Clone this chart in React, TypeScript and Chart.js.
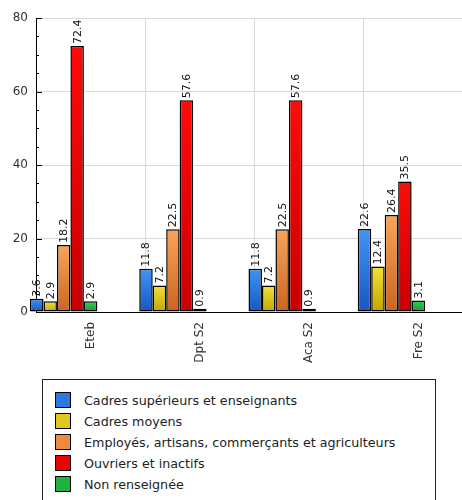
import React, { useEffect, useRef } from 'react';
import { Chart, registerables } from 'chart.js';

Chart.register(...registerables);

const categories = ['Eteb', 'Dpt S2', 'Aca S2', 'Fre S2'];
const seriesNames = [
  'Cadres supérieurs et enseignants',
  'Cadres moyens',
  'Employés, artisans, commerçants et agriculteurs',
  'Ouvriers et inactifs',
  'Non renseignée',
];
const cadresSuperieurs = [3.6, 11.8, 11.8, 22.6];
const cadresMoyens = [2.9, 7.2, 7.2, 12.4];
const employes = [18.2, 22.5, 22.5, 26.4];
const ouvriers = [72.4, 57.6, 57.6, 35.5];
const nonRenseignee = [2.9, 0.9, 0.9, 3.1];
const yMax = 80;
const yMajorStep = 20;
const yMinorStep = 5;

const seriesValues = [cadresSuperieurs, cadresMoyens, employes, ouvriers, nonRenseignee];
const gradients: [string, string][] = [
  ['#3f95f5', '#1558c0'],
  ['#f2e23a', '#c2a400'],
  ['#f8a458', '#cc6420'],
  ['#ff0a0a', '#c80000'],
  ['#3ccc4c', '#159a35'],
];
const legendColors = ['#2a78e0', '#e0c820', '#ee8a40', '#ee0000', '#22b040'];

const valueLabels = {
  id: 'valueLabels',
  afterDatasetsDraw(chart: any) {
    const ctx = chart.ctx;
    ctx.save();
    ctx.font = '11px "DejaVu Sans"';
    ctx.fillStyle = '#111';
    ctx.textAlign = 'left';
    ctx.textBaseline = 'middle';
    seriesValues.forEach((vals, i) => {
      const meta = chart.getDatasetMeta(i);
      meta.data.forEach((bar: any, j: number) => {
        ctx.save();
        ctx.translate(bar.x + 0.5, bar.y - 2);
        ctx.rotate(-Math.PI / 2);
        ctx.fillText(vals[j].toFixed(1), 0, 0);
        ctx.restore();
      });
    });
    ctx.restore();
  },
};

const yMinorTicks = {
  id: 'yMinorTicks',
  afterDraw(chart: any) {
    const ctx = chart.ctx;
    const y = chart.scales.y;
    ctx.save();
    ctx.strokeStyle = '#000';
    ctx.lineWidth = 1;
    y.ticks.forEach((t: any) => {
      const py = Math.round(y.getPixelForValue(t.value)) + 0.5;
      const len = t.value % yMajorStep === 0 ? 6 : 3;
      ctx.beginPath();
      ctx.moveTo(y.right, py);
      ctx.lineTo(y.right + len, py);
      ctx.stroke();
    });
    ctx.restore();
  },
};

export default function App() {
  const ref = useRef<HTMLCanvasElement>(null);
  useEffect(() => {
    if (!ref.current) return;
    const mkBg = (i: number) => (c: any) => {
      const chart = c.chart;
      const area = chart.chartArea;
      if (!area || c.type !== 'data') return gradients[i][0];
      const ys = chart.scales.y;
      const v = c.raw ?? 0;
      const top = ys.getPixelForValue(v);
      const base = ys.getPixelForValue(0);
      if (!(base - top > 0.5)) return gradients[i][1];
      const g = chart.ctx.createLinearGradient(0, top, 0, base);
      g.addColorStop(0, gradients[i][0]);
      g.addColorStop(1, gradients[i][1]);
      return g;
    };
    const datasets: any[] = seriesValues.map((vals, i) => ({
      label: seriesNames[i],
      data: vals,
      backgroundColor: mkBg(i),
      borderColor: '#000',
      borderWidth: 1.5,
      borderSkipped: false,
      clip: false,
    }));
    for (let k = 0; k < 4; k++) {
      datasets.push({ label: '', data: categories.map(() => null), backgroundColor: 'transparent' });
    }
    const chart = new Chart(ref.current, {
      type: 'bar',
      data: { labels: categories, datasets },
      options: {
        animation: false,
        responsive: false,
        devicePixelRatio: 1,
        layout: { padding: { top: 18, right: 7, left: 0, bottom: 6 } },
        datasets: { bar: { categoryPercentage: 1.11, barPercentage: 1 } },
        plugins: { legend: { display: false }, tooltip: { enabled: false } },
        scales: {
          x: {
            afterFit: (s: any) => { s.height = 70; },
            grid: { color: '#d8d8d8', lineWidth: 1, offset: true, drawTicks: false },
            border: { display: true, color: '#000', width: 1 },
            ticks: {
              minRotation: 90,
              maxRotation: 90,
              padding: 10,
              color: '#333',
              font: { family: 'DejaVu Sans', size: 12 },
            },
          },
          y: {
            min: 0,
            max: yMax,
            afterFit: (s: any) => { s.width = 36; },
            grid: {
              color: (c: any) => (c.tick && c.tick.value % yMajorStep === 0 && c.tick.value !== 0 ? '#d8d8d8' : 'transparent'),
              drawTicks: false,
            },
            border: { display: true, color: '#000', width: 1 },
            ticks: {
              stepSize: yMinorStep,
              padding: 8,
              color: '#333',
              font: { family: 'DejaVu Sans', size: 12 },
              callback: (v: any) => (Number(v) % yMajorStep === 0 ? String(v) : ''),
            },
          },
        },
      },
      plugins: [valueLabels, yMinorTicks],
    });
    return () => chart.destroy();
  }, []);

  return (
    <div style={{ position: 'absolute', left: 0, top: 0, width: 462, height: 500, overflow: 'hidden', background: '#fff' }}>
      <canvas ref={ref} width={480} height={388} style={{ position: 'absolute', left: 0, top: 0 }} />
      <div
        style={{
          position: 'absolute',
          left: 42,
          top: 379,
          width: 394,
          height: 140,
          boxSizing: 'border-box',
          border: '1px solid #222',
          background: '#fff',
          fontFamily: '"DejaVu Sans", sans-serif',
          fontSize: 12.7,
          color: '#222',
        }}
      >
        {seriesNames.map((n, i) => (
          <div key={n} style={{ position: 'absolute', left: 12, top: 12 + i * 21, height: 16, display: 'flex', alignItems: 'center', whiteSpace: 'nowrap' }}>
            <span style={{ display: 'inline-block', width: 14, height: 14, background: legendColors[i], border: '1px solid #000', marginRight: 13 }} />
            <span>{n}</span>
          </div>
        ))}
      </div>
    </div>
  );
}
